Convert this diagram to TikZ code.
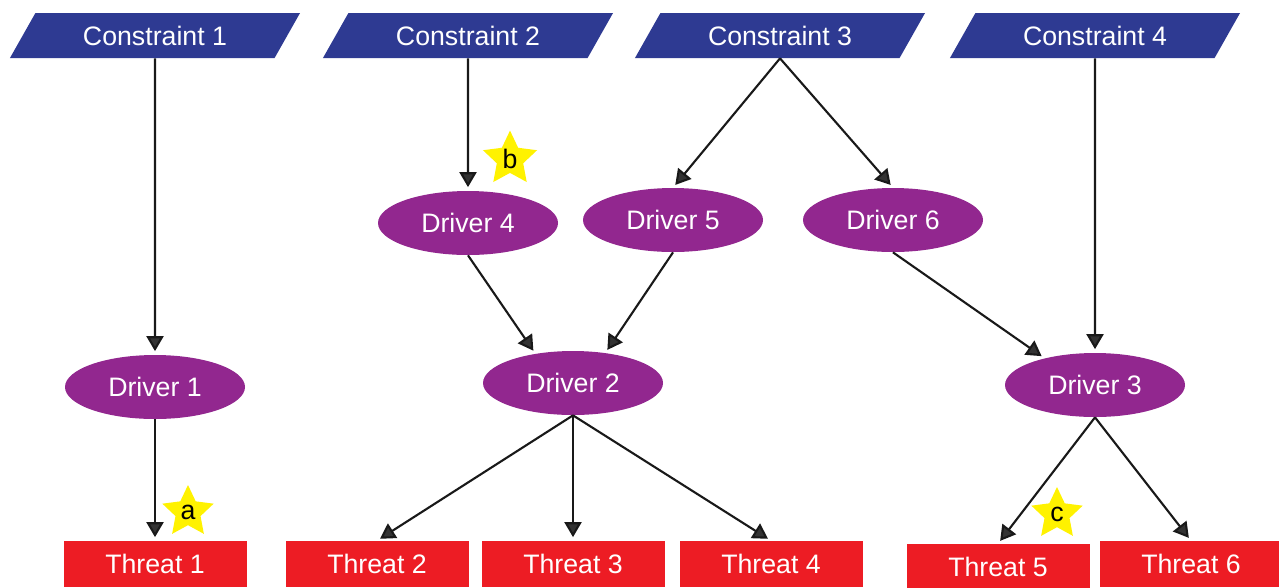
\documentclass[tikz,border=0pt]{standalone}
\usepackage{fontspec}
\setmainfont{Liberation Sans}
\usetikzlibrary{shapes.geometric,arrows.meta}
\definecolor{consblue}{RGB}{46,58,146}
\definecolor{drivpurple}{RGB}{146,39,143}
\definecolor{threatred}{RGB}{237,28,36}
\definecolor{staryellow}{RGB}{255,242,0}
\begin{document}
\begin{tikzpicture}[
		font=\fontsize{15.2}{18}\selectfont,
		constraint/.style={trapezium, trapezium left angle=52, trapezium right angle=128, trapezium stretches=true, fill=consblue, text=white, minimum width=5.84cm, minimum height=0.9cm, inner sep=0pt},
		driver/.style={ellipse, fill=drivpurple, text=white, minimum width=3.6cm, minimum height=1.28cm, inner sep=0pt},
		threat/.style={rectangle, fill=threatred, text=white, minimum width=3.66cm, minimum height=0.92cm, inner sep=0pt},
		mark star/.style={star, star points=5, star point ratio=2.05, fill=staryellow, minimum size=1.08cm, inner sep=0pt},
		link/.style={draw=black!90, line width=1.2pt, -{Triangle[length=0.3cm, width=0.34cm, fill=black!80]}, shorten >=2pt}
	]
		\useasboundingbox (0,0) rectangle (25.58,-11.74);
		% constraints
		\node[constraint] (c1) at (3.1,-0.71) {Constraint 1};
		\node[constraint] (c2) at (9.36,-0.71) {Constraint 2};
		\node[constraint] (c3) at (15.6,-0.71) {Constraint 3};
		\node[constraint] (c4) at (21.9,-0.71) {Constraint 4};
		% drivers
		\node[driver] (d1) at (3.1,-7.74) {Driver 1};
		\node[driver] (d4) at (9.36,-4.46) {Driver 4};
		\node[driver] (d5) at (13.46,-4.4) {Driver 5};
		\node[driver] (d6) at (17.86,-4.4) {Driver 6};
		\node[driver] (d2) at (11.46,-7.66) {Driver 2};
		\node[driver] (d3) at (21.9,-7.7) {Driver 3};
		% threats
		\node[threat] (t1) at (3.1,-11.28) {Threat 1};
		\node[threat] (t2) at (7.54,-11.28) {Threat 2};
		\node[threat] (t3) at (11.46,-11.28) {Threat 3};
		\node[threat] (t4) at (15.42,-11.28) {Threat 4};
		\node[threat] (t5) at (19.96,-11.34) {Threat 5};
		\node[threat] (t6) at (23.82,-11.28) {Threat 6};
		% stars
		\node[mark star] (sa) at (3.76,-10.24) {a};
		\node[mark star] (sb) at (10.2,-3.18) {b};
		\node[mark star] (sc) at (21.14,-10.28) {c};
		% links
		\draw[link] (c1.south) -- (d1.north);
		\draw[link] (d1.south) -- (t1.north);
		\draw[link] (c2.south) -- (d4.north);
		\draw[link] (c3.south) -- (d5.north);
		\draw[link] (c3.south) -- (d6.north);
		\draw[link] (c4.south) -- (d3.north);
		\draw[link] (d4.south) -- (d2.142);
		\draw[link] (d5.south) -- (d2.43);
		\draw[link] (d6.south) -- (d3.152);
		\draw[link] (d2.south) -- (t2.north);
		\draw[link] (d2.south) -- (t3.north);
		\draw[link] (d2.south) -- (t4.north);
		\draw[link] (d3.south) -- (t5.north);
		\draw[link] (d3.south) -- (t6.north);
\end{tikzpicture}
\end{document}
